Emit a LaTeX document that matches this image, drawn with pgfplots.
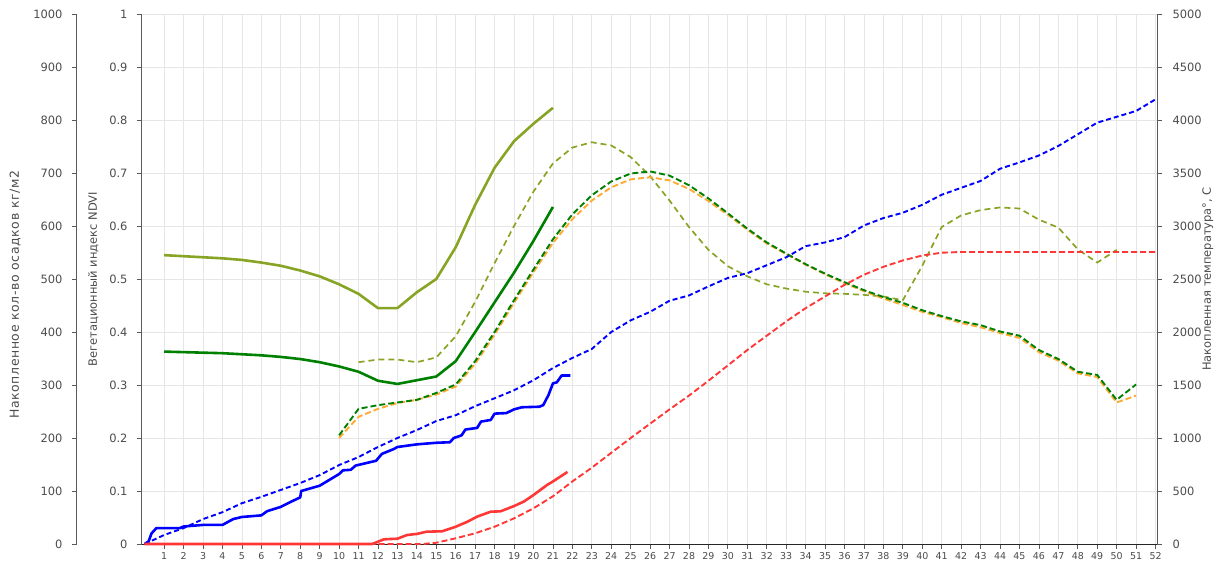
\documentclass[border=0pt]{standalone}
\usepackage{fontspec}
\setmainfont{DejaVu Sans}
\usepackage{pgfplots}
\pgfplotsset{compat=1.18}

\definecolor{olv}{RGB}{136,164,36}
\definecolor{grn}{RGB}{0,128,0}
\definecolor{orng}{RGB}{255,170,51}
\definecolor{blu}{RGB}{0,0,255}
\definecolor{rd}{RGB}{255,55,55}
\definecolor{gridgray}{RGB}{230,230,230}
\definecolor{axgray}{RGB}{90,90,90}
\definecolor{txtgray}{RGB}{75,75,75}

\pgfplotsset{
  common/.style={
    scale only axis, width=1015bp, height=530bp,
    xmin=-0.14, xmax=52.08,
    clip=false,
    /pgf/number format/assume math mode=true,
    /pgf/number format/1000 sep={},
    tick label style={font=\fontsize{11.5}{13}\selectfont, text=txtgray},
    tick align=outside,
    major tick length=5bp,
    every tick/.style={draw=axgray, line width=0.8bp},
    axis line style={draw=axgray, line width=1bp},
    every axis y label/.style={rotate=90, anchor=center,
      font=\fontsize{11.5}{13}\selectfont, text=txtgray},
  },
  solidline/.style={line width=2.6bp, line join=round},
  dashline/.style={line width=1.9bp, dash pattern=on 6bp off 3bp},
}

\begin{document}
\begin{tikzpicture}
% NDVI axis with the week grid
\begin{axis}[common,
  axis x line*=bottom, axis y line*=left,
  ymin=0, ymax=1,
  ytick={0,0.1,0.2,0.3,0.4,0.5,0.6,0.7,0.8,0.9,1},
  yticklabel style={/pgf/number format/.cd, fixed, precision=1, /tikz/xshift=-6bp},
  xtick={1,...,52},
  xticklabel style={font=\fontsize{9.5}{11}\selectfont},
  x axis line style={draw=black!85},
  grid=major, grid style={draw=gridgray, line width=0.8bp},
  ylabel={Вегетационный индекс NDVI},
  every axis y label/.append style={at={(axis description cs:-0.048,0.5)}},
]
% NDVI, multi-year maximum
\addplot[olv, solidline] coordinates {
(1,0.545) (2,0.543) (3,0.541) (4,0.539) (5,0.536) (6,0.531) (7,0.525)
(8,0.516) (9,0.505) (10,0.490) (11,0.472) (12,0.445) (13,0.445) (14,0.475)
(15,0.500) (16,0.560) (17,0.640) (18,0.710) (19,0.760) (20,0.793) (21,0.823)};
% NDVI, previous season
\addplot[olv, line width=1.7bp, dash pattern=on 6bp off 4bp] coordinates {
(11,0.343) (12,0.348) (13,0.348) (14,0.343) (15,0.352) (16,0.392) (17,0.457)
(18,0.530) (19,0.600) (20,0.665) (21,0.718) (22,0.748) (23,0.758) (24,0.752)
(25,0.730) (26,0.694) (27,0.648) (28,0.598) (29,0.555) (30,0.524) (31,0.505)
(32,0.490) (33,0.482) (34,0.476) (35,0.473) (36,0.472) (37,0.470) (38,0.467)
(39,0.460) (40,0.525) (41,0.598) (42,0.620) (43,0.630) (44,0.635) (45,0.633)
(46,0.612) (47,0.597) (48,0.556) (49,0.531) (50,0.555)};
% NDVI, mean (smoothed)
\addplot[orng, dashline] coordinates {
(10,0.200) (11,0.240) (12,0.255) (13,0.266) (14,0.272) (15,0.282) (16,0.297)
(17,0.340) (18,0.395) (19,0.455) (20,0.513) (21,0.568) (22,0.613) (23,0.648)
(24,0.673) (25,0.688) (26,0.692) (27,0.686) (28,0.670) (29,0.647) (30,0.621)
(31,0.593) (32,0.567) (33,0.547) (34,0.527) (35,0.509) (36,0.492) (37,0.477)
(38,0.463) (39,0.451) (40,0.438) (41,0.428) (42,0.417) (43,0.409) (44,0.398)
(45,0.389) (46,0.362) (47,0.346) (48,0.322) (49,0.315) (50,0.267) (51,0.280)};
% NDVI, mean
\addplot[grn, dashline] coordinates {
(10,0.205) (11,0.255) (12,0.262) (13,0.267) (14,0.272) (15,0.285) (16,0.301)
(17,0.345) (18,0.400) (19,0.460) (20,0.518) (21,0.575) (22,0.622) (23,0.658)
(24,0.684) (25,0.699) (26,0.703) (27,0.695) (28,0.677) (29,0.652) (30,0.624)
(31,0.595) (32,0.569) (33,0.548) (34,0.528) (35,0.510) (36,0.494) (37,0.479)
(38,0.466) (39,0.455) (40,0.441) (41,0.430) (42,0.420) (43,0.413) (44,0.401)
(45,0.393) (46,0.366) (47,0.349) (48,0.325) (49,0.319) (50,0.272) (51,0.301)};
% NDVI, current season
\addplot[grn, solidline] coordinates {
(1,0.363) (2,0.362) (3,0.361) (4,0.360) (5,0.358) (6,0.356) (7,0.353)
(8,0.349) (9,0.343) (10,0.335) (11,0.325) (12,0.308) (13,0.302) (14,0.309)
(15,0.316) (16,0.345) (17,0.400) (18,0.456) (19,0.512) (20,0.572) (21,0.636)};
\end{axis}

% accumulated precipitation
\begin{axis}[common,
  hide x axis, axis y line*=left, axis y line shift=65bp,
  ymin=0, ymax=1000, ytick={0,100,...,1000},
  yticklabel style={xshift=-6bp},
  ylabel={Накопленное кол-во осадков кг/м2},
  every axis y label/.append style={at={(axis description cs:-0.125,0.47)},
    font=\fontsize{12.5}{14}\selectfont\addfontfeature{LetterSpace=5}},
]
\addplot[blu, line width=1.9bp, dash pattern=on 5bp off 3bp] coordinates {
(0,0) (1,17) (2,30) (3,47) (4,60) (5,77) (6,89) (7,102) (8,115) (9,130)
(10,149) (11,164) (12,183) (13,200) (14,215) (15,232) (16,243) (17,260)
(18,275) (19,290) (20,309) (21,332) (22,351) (23,368) (24,400) (25,422)
(26,438) (27,459) (28,469) (29,486) (30,502) (31,511) (32,526) (33,541)
(34,562) (35,569) (36,579) (37,601) (38,615) (39,625) (40,640) (41,659)
(42,672) (43,685) (44,708) (45,720) (46,733) (47,751) (48,773) (49,795)
(50,806) (51,817) (52,839)};
\addplot[blu, solidline] coordinates {
(0,0) (0.2,5) (0.35,20) (0.6,30) (1.8,30) (2.0,33) (3.0,36) (4.0,36)
(4.55,47) (5.0,51) (6.0,54) (6.3,62) (7.0,70) (7.6,81) (8.0,88) (8.05,100)
(9.0,110) (10.0,132) (10.2,139) (10.6,140) (10.85,148) (11.9,157) (12.2,170)
(12.8,179) (13.0,183) (14.0,188) (15.0,191) (15.7,192) (15.9,200) (16.3,205)
(16.5,216) (17.1,219) (17.3,231) (17.8,234) (18.0,246) (18.6,247) (19.0,254)
(19.4,258) (20.3,259) (20.5,262) (20.77,281) (21.0,303) (21.2,305)
(21.45,318) (21.9,318)};
\end{axis}

% accumulated temperature
\begin{axis}[common,
  hide x axis, axis y line*=right,
  ymin=0, ymax=5000, ytick={0,500,...,5000},
  yticklabel style={xshift=7bp},
  ylabel={Накопленная температура°, С},
  every axis y label/.append style={at={(axis description cs:1.05,0.5)}},
]
\addplot[rd, line width=1.9bp, dash pattern=on 6bp off 3bp] coordinates {
(0,0) (14.3,0) (15,12) (16,54) (17,101) (18,163) (19,242) (20,337) (21,450)
(22,590) (23,720) (24,860) (25,1000) (26,1135) (27,1270) (28,1400) (29,1540)
(30,1685) (31,1830) (32,1965) (33,2100) (34,2225) (35,2335) (36,2445)
(37,2540) (38,2615) (39,2675) (40,2722) (41,2748) (42,2755) (43,2755)
(44,2755) (45,2755) (46,2755) (47,2755) (48,2755) (49,2755) (50,2755)
(51,2755) (52,2755)};
\addplot[rd, solidline] coordinates {
(0,0) (11.7,0) (12.3,44) (13.0,50) (13.5,85) (14.0,95) (14.5,116) (15.3,120)
(16.0,163) (16.6,210) (17.1,258) (17.8,305) (18.3,308) (19.0,358) (19.5,400)
(20.0,462) (20.7,557) (21.0,590) (21.75,680)};
\end{axis}
\pgfresetboundingbox
\path[use as bounding box] (-142bp,-21bp) rectangle (1072bp,544bp);
\end{tikzpicture}
\end{document}
